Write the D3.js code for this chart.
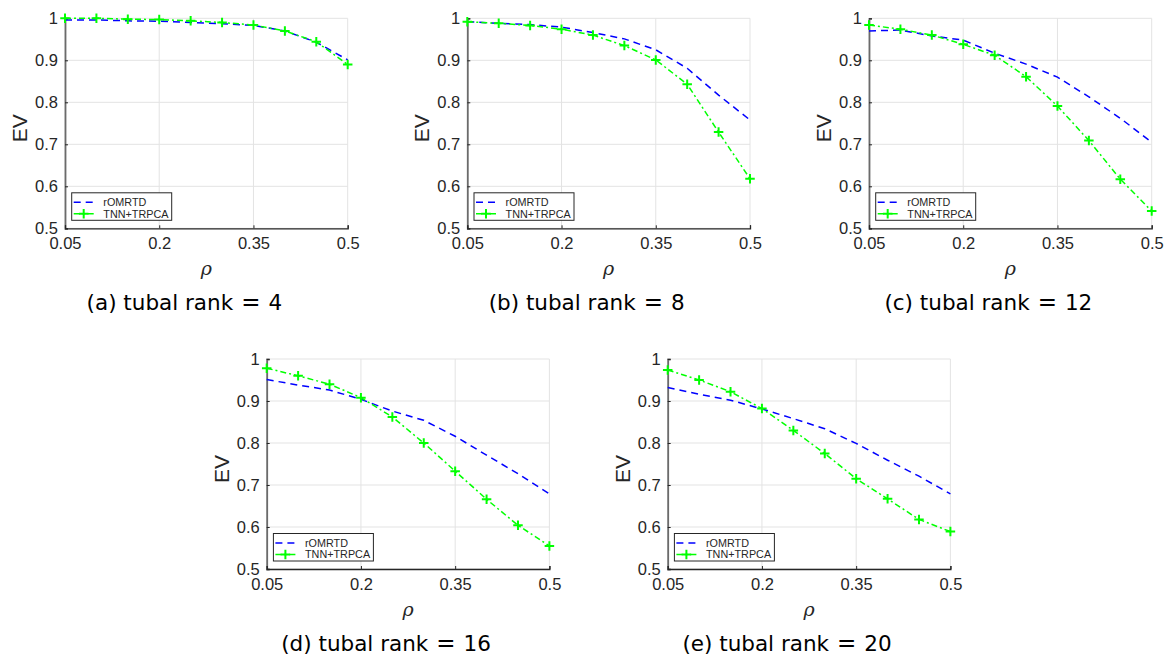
<!DOCTYPE html>
<html>
<head>
<meta charset="utf-8">
<script src="https://cdn.jsdelivr.net/npm/d3@7"></script>
<style>
  html, body { margin: 0; padding: 0; background: #fff; }
  svg { display: block; }
</style>
</head>
<body>
<svg id="fig" width="1164" height="660"></svg>
<script>
// Sampling ratio on the horizontal axis
const rho = [0.05, 0.10, 0.15, 0.20, 0.25, 0.30, 0.35, 0.40, 0.45, 0.50];

// Tick values and their labels
const xTicks = [0.05, 0.2, 0.35, 0.5];
const xTickLabels = ["0.05", "0.2", "0.35", "0.5"];
const yTicks = [0.5, 0.6, 0.7, 0.8, 0.9, 1.0];
const yTickLabels = ["0.5", "0.6", "0.7", "0.8", "0.9", "1"];

// Series names and tubal ranks of the sub-figures
const seriesNames = ["rOMRTD", "TNN+TRPCA"];
const panelTags = ["(a)", "(b)", "(c)", "(d)", "(e)"];
const tubalRanks = [4, 8, 12, 16, 20];

// EV of each method, one array per tubal rank
const romrtdRank4  = [0.996, 0.996, 0.994, 0.993, 0.990, 0.987, 0.983, 0.970, 0.943, 0.901];
const tnnRank4     = [1.000, 1.000, 0.998, 0.997, 0.994, 0.990, 0.984, 0.970, 0.944, 0.890];

const romrtdRank8  = [0.992, 0.988, 0.985, 0.979, 0.966, 0.951, 0.925, 0.881, 0.817, 0.758];
const tnnRank8     = [0.992, 0.988, 0.983, 0.974, 0.960, 0.935, 0.901, 0.843, 0.729, 0.618];

const romrtdRank12 = [0.970, 0.972, 0.958, 0.948, 0.917, 0.891, 0.860, 0.813, 0.762, 0.705];
const tnnRank12    = [0.984, 0.974, 0.960, 0.938, 0.912, 0.861, 0.791, 0.709, 0.617, 0.541];

const romrtdRank16 = [0.951, 0.938, 0.926, 0.904, 0.876, 0.854, 0.816, 0.771, 0.727, 0.679];
const tnnRank16    = [0.978, 0.960, 0.940, 0.908, 0.862, 0.800, 0.733, 0.666, 0.604, 0.555];

const romrtdRank20 = [0.932, 0.916, 0.902, 0.881, 0.858, 0.834, 0.799, 0.759, 0.721, 0.679];
const tnnRank20    = [0.974, 0.950, 0.922, 0.882, 0.830, 0.775, 0.715, 0.667, 0.618, 0.589];

const romrtdSeries = [romrtdRank4, romrtdRank8, romrtdRank12, romrtdRank16, romrtdRank20];
const tnnSeries    = [tnnRank4, tnnRank8, tnnRank12, tnnRank16, tnnRank20];

// Placement of each axes box (left, top) on the page
const W = 282.7, H = 210;
const boxes = [
  { left: 65.0,  top: 18.3 },
  { left: 467.3, top: 18.3 },
  { left: 869.0, top: 18.3 },
  { left: 266.7, top: 359.0 },
  { left: 667.7, top: 359.0 }
];

const BLUE = "#0000ff";
const GREEN = "#00ff00";
const AXIS = "#262626";
const GRID = "#e3e3e3";
const TICK_FONT = "'Liberation Sans', Arial, Helvetica, sans-serif";
const CAPTION_FONT = "'DejaVu Sans', 'Noto Sans', sans-serif";

const svg = d3.select("#fig");

function plusPath(size) {
  const s = size / 2;
  return `M${-s},0H${s}M0,${-s}V${s}`;
}

boxes.forEach((b, k) => {
  const x = d3.scaleLinear().domain([0.05, 0.5]).range([0, W]);
  const y = d3.scaleLinear().domain([0.5, 1.0]).range([H, 0]);

  const g = svg.append("g").attr("transform", `translate(${b.left},${b.top})`);

  // grid
  g.append("g").selectAll("line").data(yTicks).join("line")
    .attr("x1", 0).attr("x2", W)
    .attr("y1", d => y(d)).attr("y2", d => y(d))
    .attr("stroke", GRID).attr("stroke-width", 1);
  g.append("g").selectAll("line").data(xTicks).join("line")
    .attr("y1", 0).attr("y2", H)
    .attr("x1", d => x(d)).attr("x2", d => x(d))
    .attr("stroke", GRID).attr("stroke-width", 1);

  // axes
  const yAxis = d3.axisLeft(y).tickValues(yTicks)
    .tickFormat((d, i) => yTickLabels[i]).tickSize(-3).tickPadding(7);
  const xAxis = d3.axisBottom(x).tickValues(xTicks)
    .tickFormat((d, i) => xTickLabels[i]).tickSize(-3).tickPadding(9.4);

  const ya = g.append("g").call(yAxis);
  const xa = g.append("g").attr("transform", `translate(0,${H})`).call(xAxis);
  [ya, xa].forEach(a => {
    a.select(".domain").attr("stroke", AXIS).attr("stroke-width", 1.3);
    a.selectAll(".tick line").attr("stroke", AXIS);
    a.selectAll(".tick text").attr("fill", AXIS)
      .style("font-family", TICK_FONT).style("font-size", "16.5px");
  });
  ya.select(".domain").attr("stroke", "#6b6b6b").attr("stroke-width", 1.8);

  // axis titles
  g.append("text")
    .attr("transform", `translate(-38,${H / 2 + 5}) rotate(-90)`)
    .attr("text-anchor", "middle")
    .style("font-family", TICK_FONT).style("font-size", "21px")
    .attr("fill", AXIS).text("EV");
  g.append("text")
    .attr("x", W / 2).attr("y", H + 46.5)
    .attr("text-anchor", "middle")
    .style("font-family", "'DejaVu Serif', 'Liberation Serif', serif")
    .style("font-style", "italic").style("font-size", "19px")
    .attr("fill", AXIS).text("ρ");

  // series
  const line = d3.line().x((d, i) => x(rho[i])).y(d => y(d));

  g.append("path").datum(romrtdSeries[k])
    .attr("d", line).attr("fill", "none")
    .attr("stroke", BLUE).attr("stroke-width", 1.5)
    .attr("stroke-dasharray", "7,5");

  g.append("path").datum(tnnSeries[k])
    .attr("d", line).attr("fill", "none")
    .attr("stroke", GREEN).attr("stroke-width", 1.5)
    .attr("stroke-dasharray", "6,3,2,3");

  g.append("g").selectAll("path").data(tnnSeries[k]).join("path")
    .attr("transform", (d, i) => `translate(${x(rho[i])},${y(d)})`)
    .attr("d", plusPath(9.5))
    .attr("stroke", GREEN).attr("stroke-width", 2).attr("fill", "none");

  // legend
  const lg = g.append("g").attr("transform", `translate(6.7,${H - 8 - 27.5})`);
  lg.append("rect").attr("width", 100).attr("height", 27.5)
    .attr("fill", "#fff").attr("stroke", AXIS).attr("stroke-width", 1);
  const rows = [9.4, 21];
  lg.append("line").attr("x1", 2).attr("x2", 22).attr("y1", rows[0]).attr("y2", rows[0])
    .attr("stroke", BLUE).attr("stroke-width", 1.5).attr("stroke-dasharray", "7,5");
  lg.append("line").attr("x1", 2).attr("x2", 22).attr("y1", rows[1]).attr("y2", rows[1])
    .attr("stroke", GREEN).attr("stroke-width", 1.5).attr("stroke-dasharray", "6,3,2,3");
  lg.append("path").attr("transform", `translate(12,${rows[1]})`)
    .attr("d", plusPath(9.5)).attr("stroke", GREEN).attr("stroke-width", 2);
  seriesNames.forEach((name, i) => {
    lg.append("text").attr("x", 31.6).attr("y", rows[i])
      .attr("dy", "0.35em")
      .style("font-family", TICK_FONT).style("font-size", "10.8px")
      .attr("fill", AXIS).text(name);
  });

  // sub-figure caption, with math-style spacing around "="
  const cap = svg.append("text")
    .attr("x", b.left + W / 2 - 22).attr("y", b.top + H + 81.7)
    .attr("text-anchor", "middle")
    .style("font-family", CAPTION_FONT)
    .style("font-size", "21.5px")
    .attr("fill", "#000");
  cap.append("tspan").text(`${panelTags[k]} tubal rank`);
  cap.append("tspan").attr("dx", 8).style("font-size", "23px").text("=");
  cap.append("tspan").attr("dx", 8).text(`${tubalRanks[k]}`);
});
</script>
</body>
</html>
